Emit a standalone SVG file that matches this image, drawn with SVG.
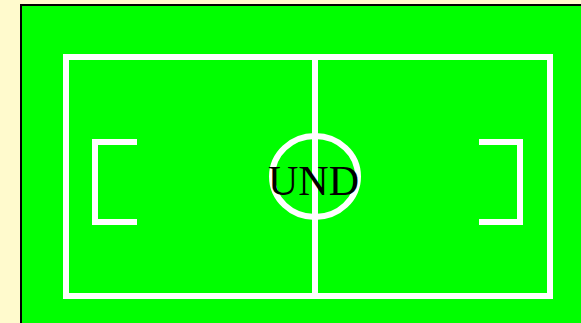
<svg xmlns="http://www.w3.org/2000/svg" width="581" height="323" viewBox="0 0 581 323">
<style>
.line{fill:none;stroke:#ffffff;stroke-width:6}
</style>
<rect x="0" y="0" width="581" height="323" fill="#fffacd"/>
<rect x="21" y="5" width="580" height="340" fill="#00ff00" stroke="#000000" stroke-width="2"/>
<g id="field">
<rect class="line" x="66" y="57" width="484" height="239"/>
<line class="line" x1="315" y1="57" x2="315" y2="296"/>
<ellipse class="line" cx="315" cy="176.5" rx="43" ry="40.5"/>
<path class="line" d="M137,142 H95 V222 H137"/>
<path class="line" d="M479,142 H520 V222 H479"/>
</g>
<text x="313.5" y="194.5" font-family="Liberation Serif, serif" font-size="42" text-anchor="middle" fill="#000000">UND</text>
</svg>
